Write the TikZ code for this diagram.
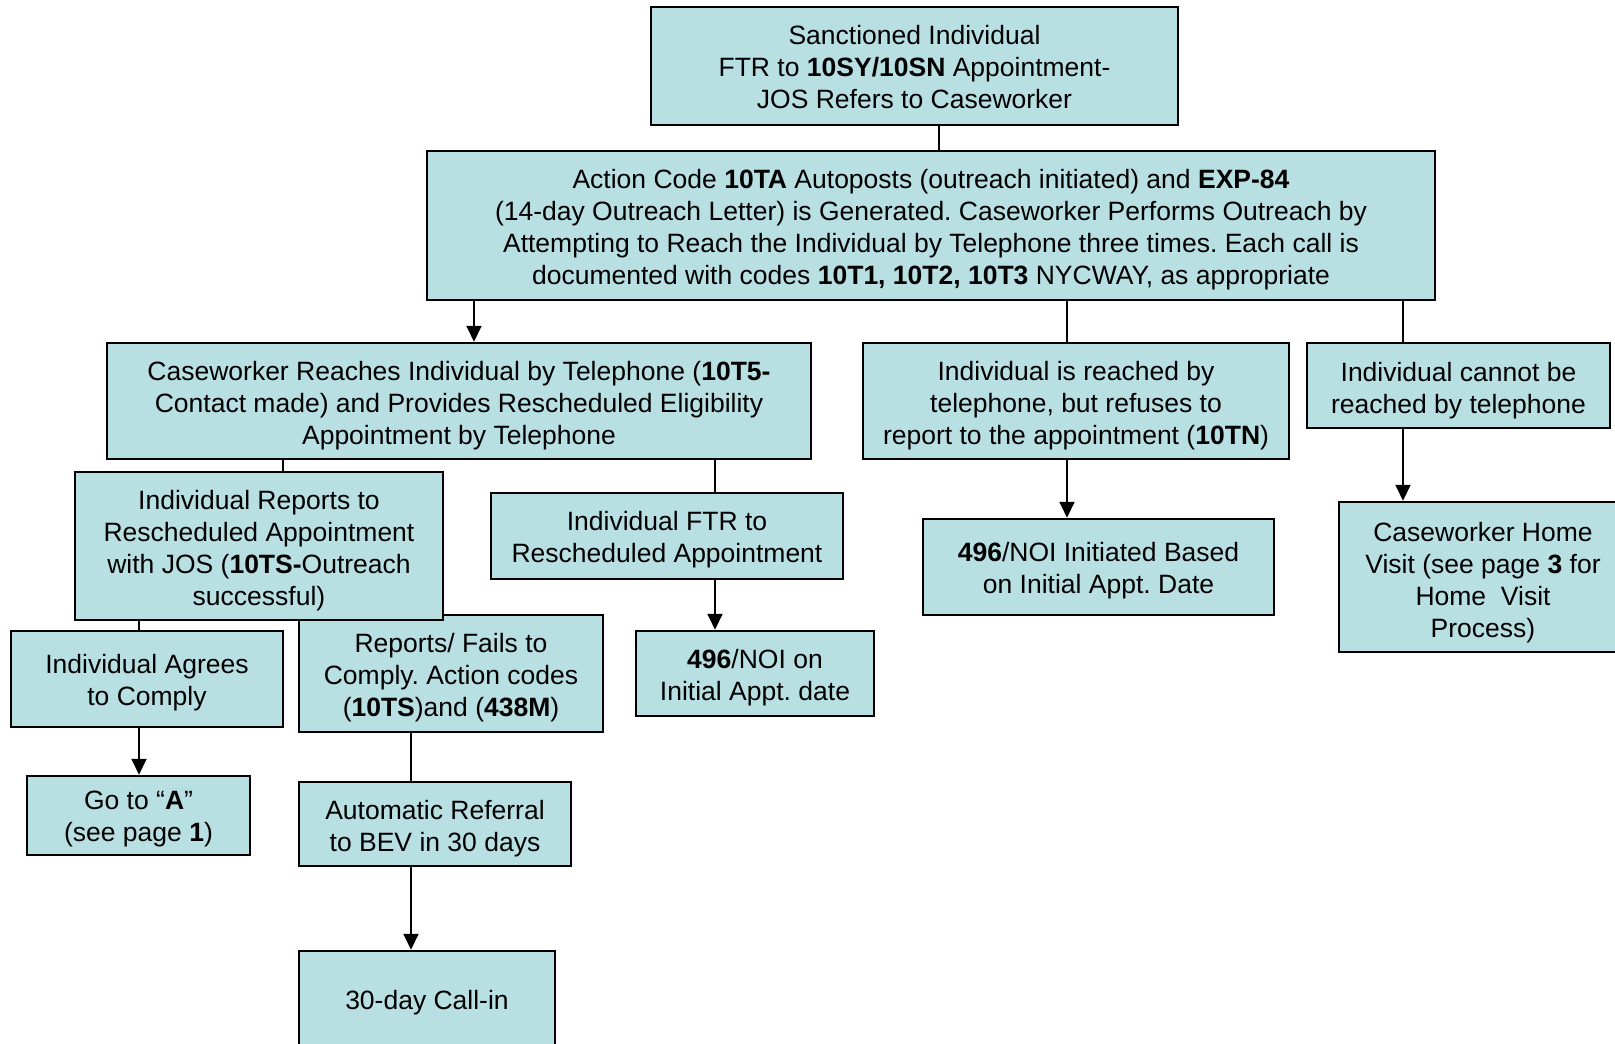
\documentclass[tikz,border=0pt]{standalone}
\usepackage{fontspec}
\setmainfont{Liberation Sans}
\frenchspacing
\usepackage{xcolor}
\definecolor{boxFill}{HTML}{B8DFE2}
\usepackage{tikz}
\usetikzlibrary{arrows.meta, positioning}

\begin{document}
\begin{tikzpicture}[x=1pt, y=-1pt, >={Triangle[length=16pt, width=15pt]},
    box/.style={draw=black, line width=2.5pt, fill=boxFill, inner sep=0pt, align=center, font=\fontsize{26.5}{32}\selectfont},
    link/.style={line width=2pt}]
        % Page (pixel grid, y downwards)
        \useasboundingbox (0, 0) rectangle (1615, 1044);
        \clip (0, 0) rectangle (1615, 1044);

        % Columns for the connectors
        \coordinate (colTop) at (939, 0);
        \coordinate (colReach) at (474, 0);
        \coordinate (colRefuse) at (1067, 0);
        \coordinate (colCannot) at (1403, 0);
        \coordinate (colReports) at (283, 0);
        \coordinate (colFtr) at (715, 0);
        \coordinate (colAgrees) at (139, 0);
        \coordinate (colFails) at (411, 0);

        % Top rows (text height = first baseline + rows below, text depth = rest of the box)
        \node[box, minimum width=527, text height=101.3, text depth=16.7] (sanct) at (914.5, 66) {Sanctioned Individual\\FTR to \textbf{10SY/10SN} Appointment-\\JOS Refers to Caseworker};
        \node[box, minimum width=1008, text height=133.3, text depth=15.7] (outreach) at (931, 225.5) {Action Code \textbf{10TA} Autoposts (outreach initiated) and \textbf{EXP-84}\\(14-day Outreach Letter) is Generated. Caseworker Performs Outreach by\\Attempting to Reach the Individual by Telephone three times. Each call is\\documented with codes \textbf{10T1, 10T2, 10T3} NYCWAY, as appropriate};

        % Outcomes of the calls
        \node[box, minimum width=704, text height=101.3, text depth=14.7] (reach) at (459, 401) {Caseworker Reaches Individual by Telephone (\textbf{10T5-}\\Contact made) and Provides Rescheduled Eligibility\\Appointment by Telephone};
        \node[box, minimum width=426, text height=101.3, text depth=14.7] (refuse) at (1076, 401) {Individual is reached by\\telephone, but refuses to\\report to the appointment (\textbf{10TN})};
        \node[box, minimum width=303, text height=70.3, text depth=14.7] (cannot) at (1458.5, 385.5) {Individual cannot be\\reached by telephone};

        % Next level
        \node[box, minimum width=304, text height=101.2, text depth=15.8] (fails) at (451, 673.5) {Reports/ Fails to\\Comply. Action codes\\(\textbf{10TS})and (\textbf{438M})};
        \node[box, minimum width=368, text height=133.4, text depth=14.6] (reports) at (259, 546) {Individual Reports to\\Rescheduled Appointment\\with JOS (\textbf{10TS-}Outreach\\successful)};
        \node[box, minimum width=352, text height=69.3, text depth=16.7] (ftr) at (667, 536) {Individual FTR to\\Rescheduled Appointment};
        \node[box, minimum width=351, text height=74.5, text depth=21.5] (noiBased) at (1098.5, 567) {\textbf{496}/NOI Initiated Based\\on Initial Appt. Date};
        \node[box, minimum width=288, text height=135, text depth=15] (homeVisit) at (1483, 577) {Caseworker Home\\Visit (see page \textbf{3} for\\Home\ \ Visit\\Process)};

        % Bottom
        \node[box, minimum width=272, text height=74.5, text depth=21.5] (agrees) at (147, 679) {Individual Agrees\\to Comply};
        \node[box, minimum width=238, text height=69.3, text depth=15.7] (noiInitial) at (755, 673.5) {\textbf{496}/NOI on\\Initial Appt. date};
        \node[box, minimum width=223, text height=65.2, text depth=13.8] (goA) at (138.5, 815.5) {Go to “\textbf{A}”\\(see page \textbf{1})};
        \node[box, minimum width=272, text height=69.3, text depth=14.7] (bev) at (435, 824) {Automatic Referral\\to BEV in 30 days};
        \node[box, minimum width=256, text height=58.6, text depth=37.4] (callIn) at (427, 999) {30-day Call-in};

        % Connectors
        \draw[link] (sanct.south -| colTop) -- (outreach.north -| colTop);
        \draw[link, ->] (outreach.south -| colReach) -- (reach.north -| colReach);
        \draw[link] (outreach.south -| colRefuse) -- (refuse.north -| colRefuse);
        \draw[link] (outreach.south -| colCannot) -- (cannot.north -| colCannot);
        \draw[link] (reach.south -| colReports) -- (reports.north -| colReports);
        \draw[link] (reach.south -| colFtr) -- (ftr.north -| colFtr);
        \draw[link, ->] (ftr.south -| colFtr) -- (noiInitial.north -| colFtr);
        \draw[link, ->] (refuse.south -| colRefuse) -- (noiBased.north -| colRefuse);
        \draw[link, ->] (cannot.south -| colCannot) -- (homeVisit.north -| colCannot);
        \draw[link] (reports.south -| colAgrees) -- (agrees.north -| colAgrees);
        \draw[link, ->] (agrees.south -| colAgrees) -- (goA.north -| colAgrees);
        \draw[link] (fails.south -| colFails) -- (bev.north -| colFails);
        \draw[link, ->] (bev.south -| colFails) -- (callIn.north -| colFails);
\end{tikzpicture}
\end{document}
